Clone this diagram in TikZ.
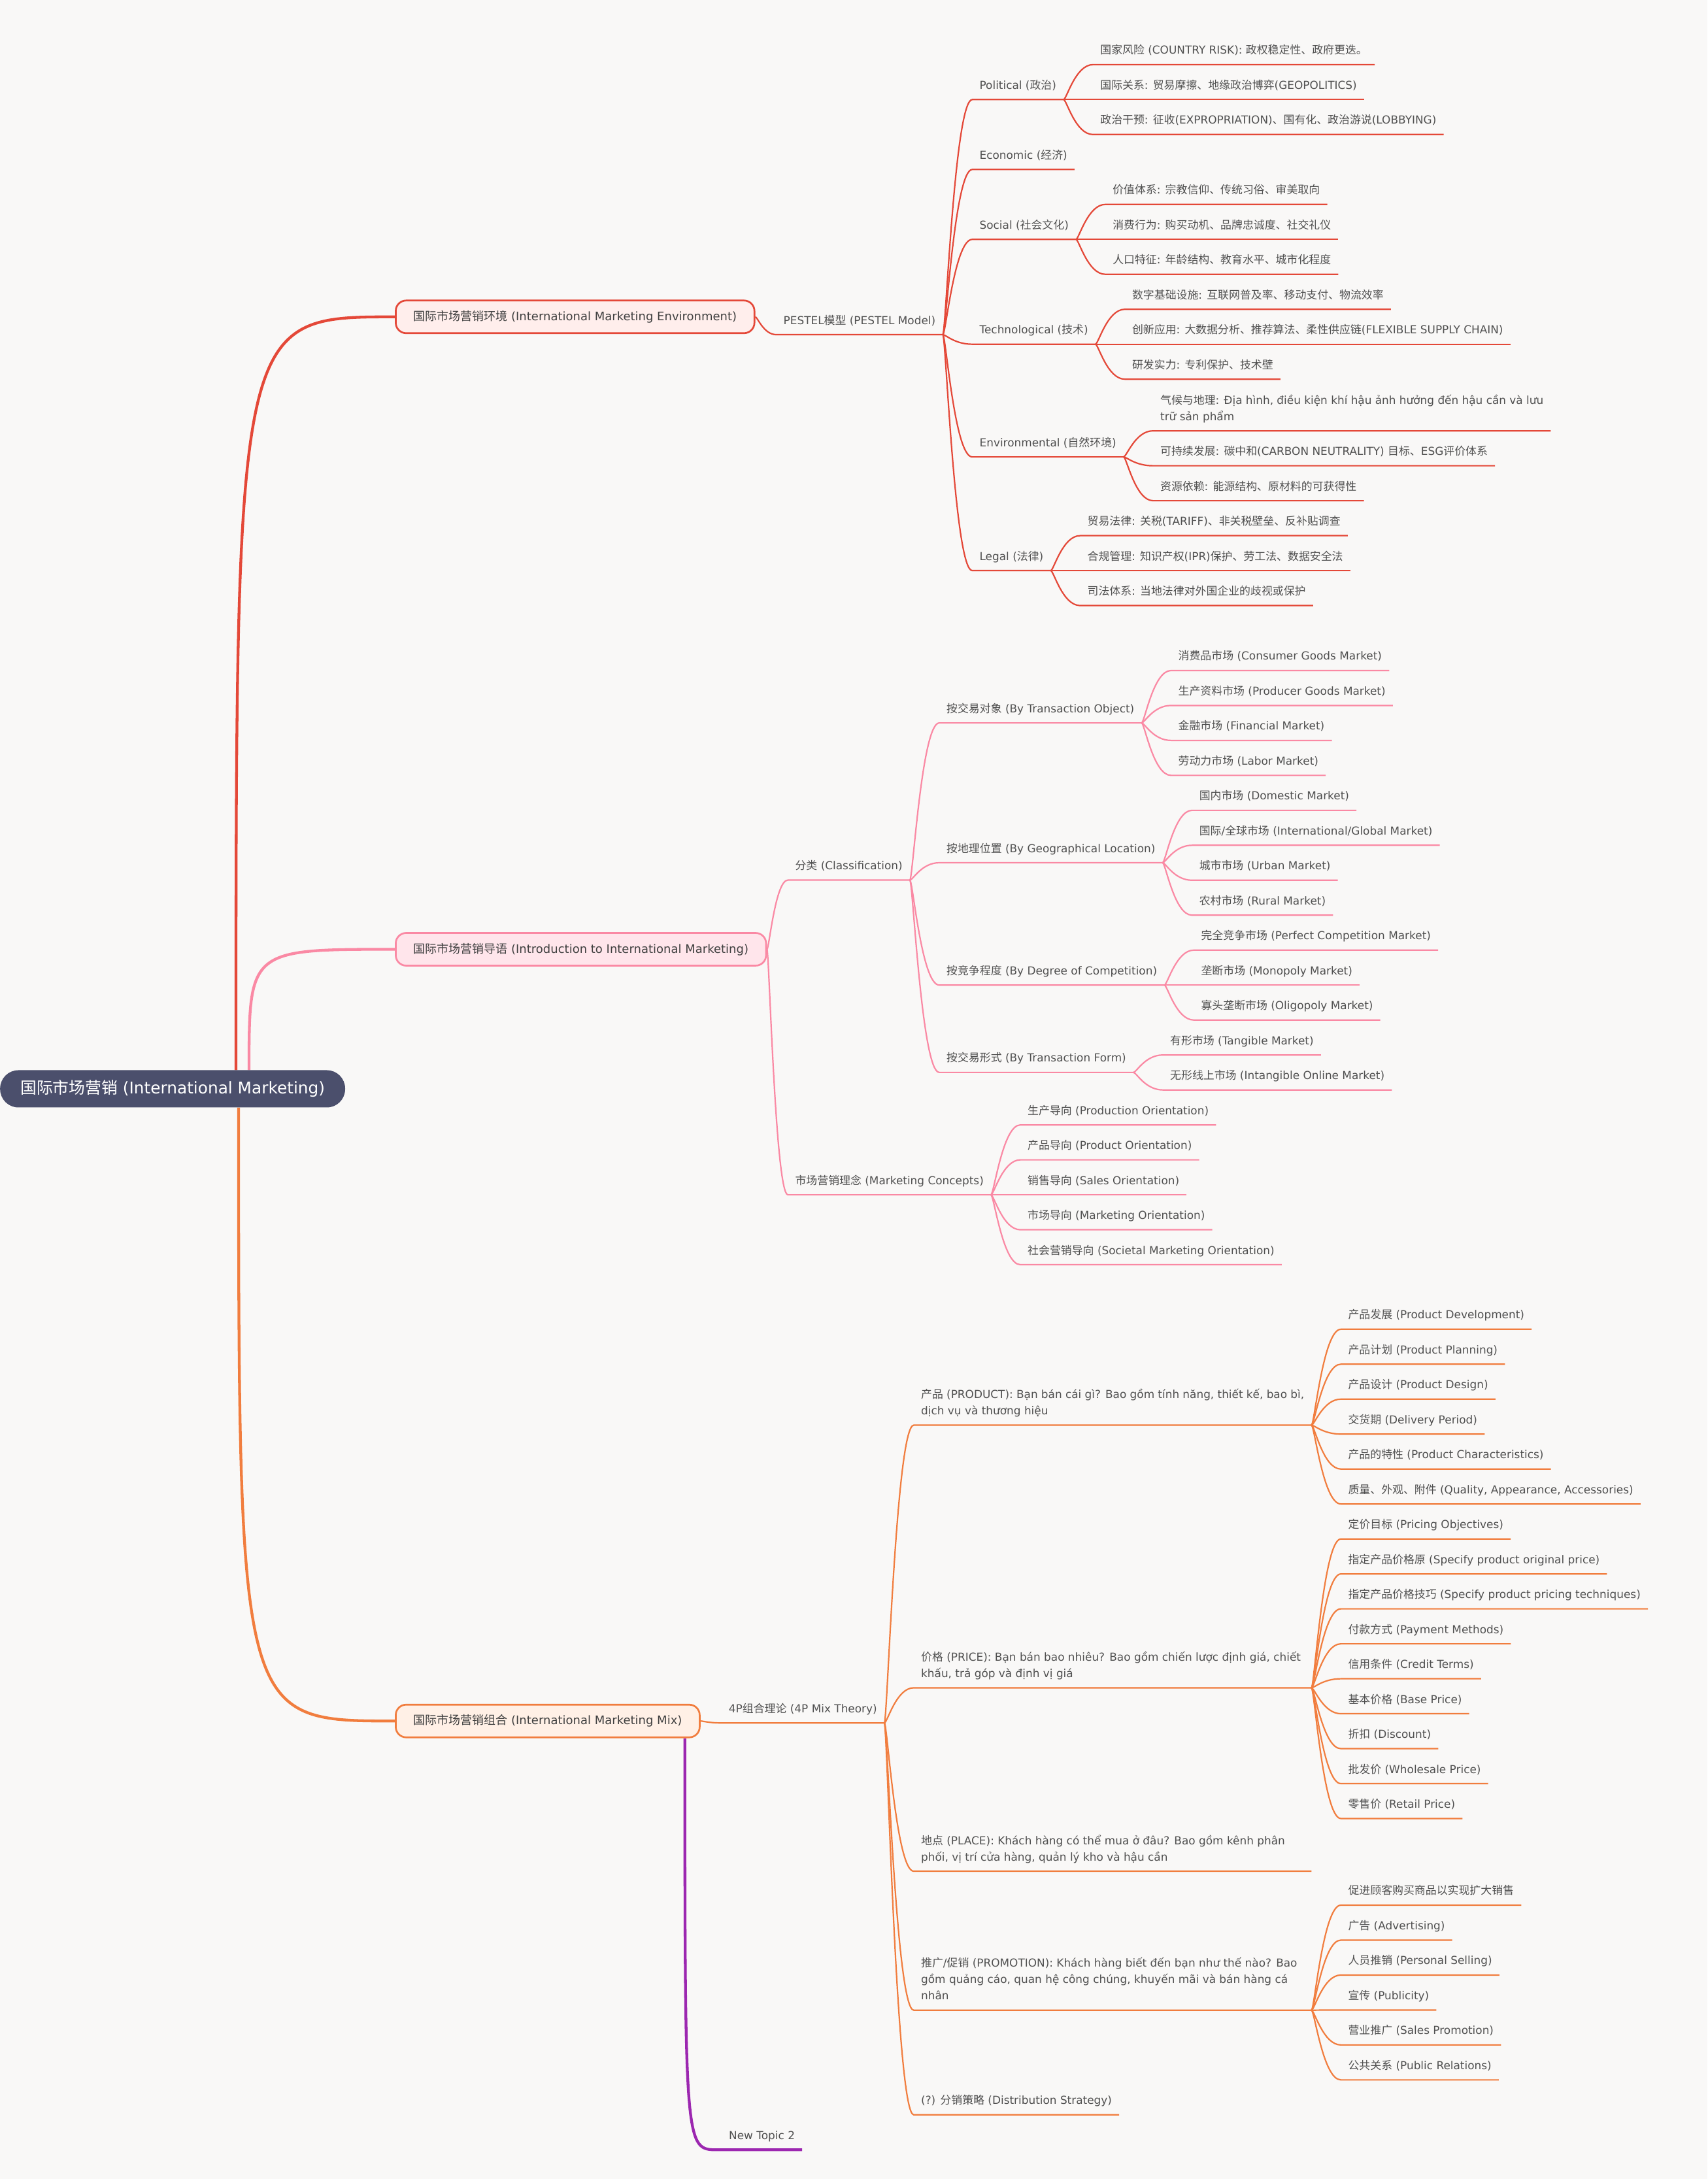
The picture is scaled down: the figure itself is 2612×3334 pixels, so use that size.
\documentclass[tikz,border=0pt]{standalone}
\usepackage{fontspec}
\setmainfont{DejaVu Sans}
\newfontfamily\cjk{Noto Sans CJK SC}
\XeTeXinterchartokenstate=1
\newXeTeXintercharclass\cjkcls
\newcount\cjkc
\def\setcjkrange#1#2{\cjkc=#1\relax\loop\XeTeXcharclass\cjkc=\cjkcls\relax\ifnum\cjkc<#2\relax\advance\cjkc by 1\relax\repeat}
\setcjkrange{"3000}{"303F}
\setcjkrange{"4E00}{"9FFF}
\setcjkrange{"FF00}{"FFEF}
\XeTeXinterchartoks 0 \cjkcls = {\begingroup\cjk}
\XeTeXinterchartoks 4095 \cjkcls = {\begingroup\cjk}
\XeTeXinterchartoks \cjkcls 0 = {\endgroup}
\XeTeXinterchartoks \cjkcls 4095 = {\endgroup}
\usetikzlibrary{calc}
\definecolor{bgc}{RGB}{249,248,247}
\definecolor{cred}{RGB}{228,72,56}
\definecolor{cpink}{RGB}{250,137,164}
\definecolor{corange}{RGB}{241,125,62}
\definecolor{cpurple}{RGB}{156,39,176}
\definecolor{fred}{RGB}{255,238,236}
\definecolor{fpink}{RGB}{255,229,235}
\definecolor{forange}{RGB}{255,240,230}
\definecolor{rootc}{RGB}{75,79,108}
\definecolor{txt}{RGB}{80,80,80}
\definecolor{ltxt}{RGB}{64,64,64}
\pgfdeclarelayer{back}
\pgfdeclarelayer{lines}
\pgfsetlayers{back,lines,main}
\newcommand\ml[1]{\parbox[b]{586pt}{\raggedright #1}}
% child of a topic: parent, name, underline y, colour, text
\newcommand\kid[5]{%
  \path (#1.base east) ++(45pt,0) coordinate (#2-x);
  \coordinate (#2-s) at (#2-x |- 0,#3);
  \node[leaf] (#2) at ($(#2-s)+(0,16pt)$) {#5};
  \begin{pgfonlayer}{lines}
  \draw[lk,#4] ($(#1.base east)+(0,-16pt)$) .. controls ($(#1.base east)+(4.5pt,-16pt)$) and ($(#2-s)+(-27pt,0)$) .. (#2-s) -- ($(#2.base east)+(0,-16pt)$);
  \end{pgfonlayer}
}
% child of a first-level box
\newcommand\lkid[5]{%
  \path (#1.east) ++(32pt,0) coordinate (#2-x);
  \coordinate (#2-s) at (#2-x |- 0,#3);
  \node[leaf] (#2) at ($(#2-s)+(0,16pt)$) {#5};
  \begin{pgfonlayer}{lines}
  \draw[lk,#4] (#1.east) .. controls ($(#1.east)+(3.2pt,0)$) and ($(#2-s)+(-19.2pt,0)$) .. (#2-s) -- ($(#2.base east)+(0,-16pt)$);
  \end{pgfonlayer}
}
\begin{document}
\begin{tikzpicture}[x=2.127pt,y=-2.1263pt,
  leaf/.style={anchor=base west, inner xsep=11pt, inner ysep=1pt, text=txt, font=\fontsize{16.9}{25}\selectfont},
  l1box/.style={anchor=west, rounded corners=16pt, line width=2.7pt, minimum height=50pt, inner xsep=27pt, text=ltxt, font=\fontsize{18}{22}\selectfont},
  rootnode/.style={anchor=west, fill=rootc, rounded corners=28pt, minimum height=57pt, inner xsep=31pt, text=white, font=\fontsize{24.8}{28}\selectfont},
  br/.style={line width=4.3pt},
  lk/.style={line width=2.2pt}]
\useasboundingbox (0pt,0pt) rectangle (2612pt,-3334pt);
\begin{pgfonlayer}{back}
\fill[bgc] (0pt,0pt) rectangle (2612pt,-3334pt);
\end{pgfonlayer}

% root and first level
\node[rootnode] (rootn) at (0,783.5) {国际市场营销 (International Marketing)};
\node[l1box,draw=cred,fill=fred] (lenv) at (284,228) {国际市场营销环境 (International Marketing Environment)};
\node[l1box,draw=cpink,fill=fpink] (lintro) at (284,683.1) {国际市场营销导语 (Introduction to International Marketing)};
\node[l1box,draw=corange,fill=forange] (lmix) at (284,1238.4) {国际市场营销组合 (International Marketing Mix)};

\coordinate (rA) at ($(rootn.north west)+(361pt,0)$);
\coordinate (rB) at ($(rootn.north west)+(381pt,0)$);
\coordinate (rC) at ($(rootn.south west)+(365pt,0)$);
\coordinate (pA) at ($(lmix.south east)+(-24pt,0)$);
\coordinate (ntS) at (516.2,1546.95);
\node[leaf] (nt) at ($(ntS)+(6pt,16pt)$) {New Topic 2};
\begin{pgfonlayer}{lines}
\draw[br,cred] (rA) .. controls (rA |- lenv.west) .. (lenv.west);
\draw[br,cpink] (rB) .. controls (rB |- lintro.west) .. (lintro.west);
\draw[br,corange] (rC) .. controls (rC |- lmix.west) .. (lmix.west);
\draw[br,cpurple] (pA) .. controls (pA |- ntS) .. (ntS) -- ($(nt.base east)+(0,-16pt)$);
\end{pgfonlayer}

% ===== Environment branch
\lkid{lenv}{pest}{240.8}{cred}{PESTEL模型 (PESTEL Model)}
\kid{pest}{pol}{71.65}{cred}{Political (政治)}
\kid{pol}{polA}{46.5}{cred}{国家风险 (COUNTRY RISK): 政权稳定性、政府更迭。}
\kid{pol}{polB}{71.65}{cred}{国际关系: 贸易摩擦、地缘政治博弈(GEOPOLITICS)}
\kid{pol}{polC}{96.8}{cred}{政治干预: 征收(EXPROPRIATION)、国有化、政治游说(LOBBYING)}
\kid{pest}{eco}{121.95}{cred}{Economic (经济)}
\kid{pest}{soc}{172.25}{cred}{Social (社会文化)}
\kid{soc}{socA}{147.1}{cred}{价值体系: 宗教信仰、传统习俗、审美取向}
\kid{soc}{socB}{172.25}{cred}{消费行为: 购买动机、品牌忠诚度、社交礼仪}
\kid{soc}{socC}{197.4}{cred}{人口特征: 年龄结构、教育水平、城市化程度}
\kid{pest}{tec}{247.7}{cred}{Technological (技术)}
\kid{tec}{tecA}{222.55}{cred}{数字基础设施: 互联网普及率、移动支付、物流效率}
\kid{tec}{tecB}{247.7}{cred}{创新应用: 大数据分析、推荐算法、柔性供应链(FLEXIBLE SUPPLY CHAIN)}
\kid{tec}{tecC}{272.85}{cred}{研发实力: 专利保护、技术壁}
\kid{pest}{envf}{328.8}{cred}{Environmental (自然环境)}
\kid{envf}{envA}{310}{cred}{\ml{气候与地理: Địa hình, điều kiện khí hậu ảnh hưởng đến hậu cần và lưu\\trữ sản phẩm}}
\kid{envf}{envB}{335.15}{cred}{可持续发展: 碳中和(CARBON NEUTRALITY) 目标、ESG评价体系}
\kid{envf}{envC}{360.3}{cred}{资源依赖: 能源结构、原材料的可获得性}
\kid{pest}{leg}{410.6}{cred}{Legal (法律)}
\kid{leg}{legA}{385.45}{cred}{贸易法律: 关税(TARIFF)、非关税壁垒、反补贴调查}
\kid{leg}{legB}{410.6}{cred}{合规管理: 知识产权(IPR)保护、劳工法、数据安全法}
\kid{leg}{legC}{435.75}{cred}{司法体系: 当地法律对外国企业的歧视或保护}

% ===== Introduction branch
\lkid{lintro}{cls}{633.3}{cpink}{分类 (Classification)}
\kid{cls}{obj}{520.2}{cpink}{按交易对象 (By Transaction Object)}
\kid{obj}{objA}{482.5}{cpink}{消费品市场 (Consumer Goods Market)}
\kid{obj}{objB}{507.65}{cpink}{生产资料市场 (Producer Goods Market)}
\kid{obj}{objC}{532.8}{cpink}{金融市场 (Financial Market)}
\kid{obj}{objD}{557.95}{cpink}{劳动力市场 (Labor Market)}
\kid{cls}{geo}{620.8}{cpink}{按地理位置 (By Geographical Location)}
\kid{geo}{geoA}{583.1}{cpink}{国内市场 (Domestic Market)}
\kid{geo}{geoB}{608.25}{cpink}{国际/全球市场 (International/Global Market)}
\kid{geo}{geoC}{633.4}{cpink}{城市市场 (Urban Market)}
\kid{geo}{geoD}{658.55}{cpink}{农村市场 (Rural Market)}
\kid{cls}{cmp}{708.85}{cpink}{按竞争程度 (By Degree of Competition)}
\kid{cmp}{cmpA}{683.7}{cpink}{完全竞争市场 (Perfect Competition Market)}
\kid{cmp}{cmpB}{708.85}{cpink}{垄断市场 (Monopoly Market)}
\kid{cmp}{cmpC}{734.0}{cpink}{寡头垄断市场 (Oligopoly Market)}
\kid{cls}{frm}{771.7}{cpink}{按交易形式 (By Transaction Form)}
\kid{frm}{frmA}{759.15}{cpink}{有形市场 (Tangible Market)}
\kid{frm}{frmB}{784.3}{cpink}{无形线上市场 (Intangible Online Market)}
\lkid{lintro}{conc}{859.75}{cpink}{市场营销理念 (Marketing Concepts)}
\kid{conc}{concA}{809.45}{cpink}{生产导向 (Production Orientation)}
\kid{conc}{concB}{834.6}{cpink}{产品导向 (Product Orientation)}
\kid{conc}{concC}{859.75}{cpink}{销售导向 (Sales Orientation)}
\kid{conc}{concD}{884.9}{cpink}{市场导向 (Marketing Orientation)}
\kid{conc}{concE}{910.05}{cpink}{社会营销导向 (Societal Marketing Orientation)}

% ===== Mix branch
\lkid{lmix}{fourp}{1239.8}{corange}{4P组合理论 (4P Mix Theory)}
\kid{fourp}{prod}{1025.5}{corange}{\ml{产品 (PRODUCT): Bạn bán cái gì? Bao gồm tính năng, thiết kế, bao bì,\\dịch vụ và thương hiệu}}
\kid{prod}{prodA}{956.5}{corange}{产品发展 (Product Development)}
\kid{prod}{prodB}{981.65}{corange}{产品计划 (Product Planning)}
\kid{prod}{prodC}{1006.8}{corange}{产品设计 (Product Design)}
\kid{prod}{prodD}{1031.95}{corange}{交货期 (Delivery Period)}
\kid{prod}{prodE}{1057.1}{corange}{产品的特性 (Product Characteristics)}
\kid{prod}{prodF}{1082.25}{corange}{质量、外观、附件 (Quality, Appearance, Accessories)}
\kid{fourp}{price}{1214.5}{corange}{\ml{价格 (PRICE): Bạn bán bao nhiêu? Bao gồm chiến lược định giá, chiết\\khấu, trả góp và định vị giá}}
\kid{price}{priceA}{1107.4}{corange}{定价目标 (Pricing Objectives)}
\kid{price}{priceB}{1132.55}{corange}{指定产品价格原 (Specify product original price)}
\kid{price}{priceC}{1157.7}{corange}{指定产品价格技巧 (Specify product pricing techniques)}
\kid{price}{priceD}{1182.85}{corange}{付款方式 (Payment Methods)}
\kid{price}{priceE}{1208.0}{corange}{信用条件 (Credit Terms)}
\kid{price}{priceF}{1233.15}{corange}{基本价格 (Base Price)}
\kid{price}{priceG}{1258.3}{corange}{折扣 (Discount)}
\kid{price}{priceH}{1283.45}{corange}{批发价 (Wholesale Price)}
\kid{price}{priceI}{1308.6}{corange}{零售价 (Retail Price)}
\kid{fourp}{place}{1346.5}{corange}{\ml{地点 (PLACE): Khách hàng có thể mua ở đâu? Bao gồm kênh phân\\phối, vị trí cửa hàng, quản lý kho và hậu cần}}
\kid{fourp}{promo}{1446.5}{corange}{\ml{推广/促销 (PROMOTION): Khách hàng biết đến bạn như thế nào? Bao\\gồm quảng cáo, quan hệ công chúng, khuyến mãi và bán hàng cá\\nhân}}
\kid{promo}{promoA}{1370.9}{corange}{促进顾客购买商品以实现扩大销售}
\kid{promo}{promoB}{1396.05}{corange}{广告 (Advertising)}
\kid{promo}{promoC}{1421.2}{corange}{人员推销 (Personal Selling)}
\kid{promo}{promoD}{1446.35}{corange}{宣传 (Publicity)}
\kid{promo}{promoE}{1471.5}{corange}{营业推广 (Sales Promotion)}
\kid{promo}{promoF}{1496.65}{corange}{公共关系 (Public Relations)}
\kid{fourp}{dist}{1521.8}{corange}{(?) 分销策略 (Distribution Strategy)}
\end{tikzpicture}
\end{document}
